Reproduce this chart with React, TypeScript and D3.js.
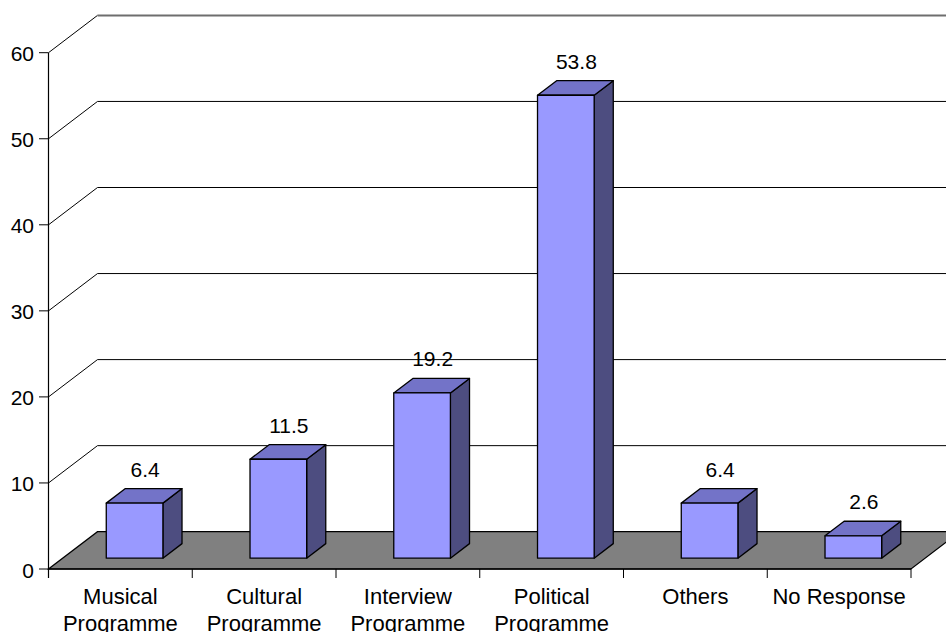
import React from "react";
import * as d3 from "d3";

// Programme preference shares (%)
const categories: string[][] = [
  ["Musical", "Programme"],
  ["Cultural", "Programme"],
  ["Interview", "Programme"],
  ["Political", "Programme"],
  ["Others"],
  ["No Response"],
];
const values: number[] = [6.4, 11.5, 19.2, 53.8, 6.4, 2.6];
const yTicks: number[] = [0, 10, 20, 30, 40, 50, 60];

const W = 946;
const H = 632;
const FONT = "'Liberation Sans', Arial, sans-serif";

// Oblique projection: depth z in [0,1] shifts points right and up
const DEPTH_DX = 49;
const DEPTH_DY = -37.3;
const BAR_Z0 = 0.29;
const BAR_Z1 = 0.68;

const FRONT = "#9999FF";
const TOP = "#7373C8";
const SIDE = "#4D4D80";
const FLOOR = "#808080";

export default function App() {
  const x0 = 48.5;
  const x1 = 911;
  const keys = categories.map((_, i) => String(i));
  const xBand = d3.scaleBand<string>().domain(keys).range([x0, x1]).padding(0);
  const xBar = d3
    .scaleBand<string>()
    .domain(keys)
    .range([x0, x1])
    .paddingInner(0.606)
    .paddingOuter(0.303);
  const y = d3.scaleLinear().domain([0, 60]).range([569, 52.7]);

  const P = (px: number, v: number, z: number): [number, number] => [
    px + z * DEPTH_DX,
    y(v) + z * DEPTH_DY,
  ];
  const pts = (arr: [number, number][]) => arr.map((p) => p.join(",")).join(" ");

  const floor = pts([P(x0, 0, 0), P(x1, 0, 0), P(x1, 0, 1), P(x0, 0, 1)]);

  return (
    <svg
      width={W}
      height={H}
      style={{ position: "absolute", left: 0, top: 0, background: "#fff" }}
      fontFamily={FONT}
    >
      {/* back-wall gridlines */}
      {yTicks
        .filter((t) => t > 0)
        .map((t) => {
          const a = P(x0, t, 0);
          const b = P(x0, t, 1);
          return (
            <g key={`g${t}`}>
              <line x1={a[0]} y1={a[1]} x2={b[0]} y2={b[1]} stroke="#000" strokeWidth={1} />
              <line
                x1={b[0]}
                y1={b[1]}
                x2={W + 20}
                y2={b[1]}
                stroke={t === 60 ? "#6e6e6e" : "#000"}
                strokeWidth={t === 60 ? 2 : 1}
              />
            </g>
          );
        })}

      {/* floor */}
      <polygon points={floor} fill={FLOOR} stroke="#000" strokeWidth={1.2} strokeLinejoin="miter" />

      {/* y axis */}
      <line x1={x0} y1={y(60)} x2={x0} y2={578} stroke="#000" strokeWidth={1.2} />
      {yTicks.map((t) => (
        <g key={`t${t}`}>
          <line x1={39} y1={y(t)} x2={x0} y2={y(t)} stroke="#000" strokeWidth={1} />
          <text x={34} y={y(t) + 1} textAnchor="end" dominantBaseline="central" fontSize={21} fill="#000">
            {t}
          </text>
        </g>
      ))}

      {/* x axis ticks */}
      <line x1={x0} y1={y(0)} x2={x1} y2={y(0)} stroke="#000" strokeWidth={1.5} />
      {keys.map((k) => {
        const bx = (xBand(k) as number) + xBand.bandwidth();
        return <line key={`xt${k}`} x1={bx} y1={y(0)} x2={bx} y2={578} stroke="#000" strokeWidth={1} />;
      })}

      {/* bars */}
      {values.map((v, i) => {
        const k = keys[i];
        const l = xBar(k) as number;
        const r = l + xBar.bandwidth();
        const front = pts([P(l, 0, BAR_Z0), P(r, 0, BAR_Z0), P(r, v, BAR_Z0), P(l, v, BAR_Z0)]);
        const top = pts([P(l, v, BAR_Z0), P(r, v, BAR_Z0), P(r, v, BAR_Z1), P(l, v, BAR_Z1)]);
        const side = pts([P(r, 0, BAR_Z0), P(r, 0, BAR_Z1), P(r, v, BAR_Z1), P(r, v, BAR_Z0)]);
        const zc = (BAR_Z0 + BAR_Z1) / 2;
        const lbl = P((l + r) / 2 + 1, v, BAR_Z1);
        return (
          <g key={`b${k}`} stroke="#000" strokeWidth={1.3} strokeLinejoin="round">
            <polygon points={side} fill={SIDE} />
            <polygon points={top} fill={TOP} />
            <polygon points={front} fill={FRONT} />
            <text
              x={P((l + r) / 2 + 1, v, zc)[0]}
              y={lbl[1] - 12}
              textAnchor="middle"
              fontSize={21}
              fill="#000"
              stroke="none"
            >
              {v.toFixed(1)}
            </text>
          </g>
        );
      })}

      {/* category labels */}
      {categories.map((lines, i) => {
        const cx = (xBand(keys[i]) as number) + xBand.bandwidth() / 2;
        return (
          <text key={`c${i}`} x={cx} y={604} textAnchor="middle" fontSize={22} fill="#000">
            {lines.map((s, j) => (
              <tspan key={j} x={cx} dy={j === 0 ? 0 : 26.7}>
                {s}
              </tspan>
            ))}
          </text>
        );
      })}
    </svg>
  );
}
